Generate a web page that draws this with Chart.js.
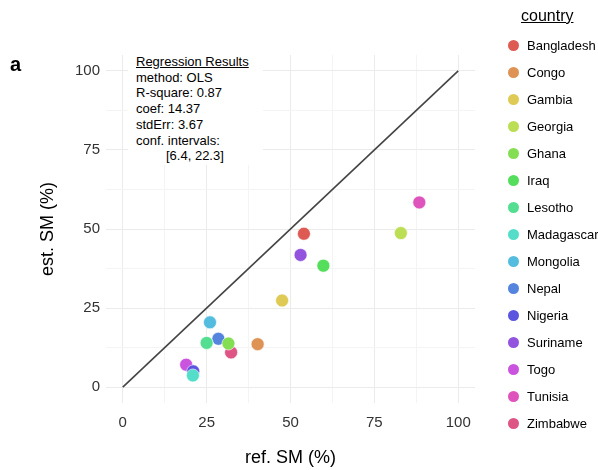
<!DOCTYPE html>
<html>
<head>
<meta charset="utf-8">
<script src="https://cdn.jsdelivr.net/npm/chart.js@4.4.0/dist/chart.umd.min.js"></script>
<style>
  body { margin: 0; background: #fff; font-family: "Liberation Sans", Arial, sans-serif; }
  #wrap { position: relative; width: 598px; height: 470px; }
  #c { position: absolute; left: 0; top: 0; }
  .tag { position: absolute; left: 10px; top: 53px; font-size: 20px; font-weight: bold; }
  #stats { position: absolute; left: 128px; top: 54px; width: 135px; height: 111px; background: #fff;
           font-size: 13px; line-height: 15.7px; color: #000; padding: 0 0 0 8px; box-sizing: border-box; }
  #stats .hd { text-decoration: underline; }
  #stats .ind { padding-left: 30px; }
  #legend { position: absolute; left: 505px; top: 5px; font-size: 13px; color: #000; }
  #legend .ttl { font-size: 16px; text-decoration: underline; margin-left: 16px; height: 27px; line-height: 22px; }
  #legend .it { height: 27px; line-height: 28px; display: flex; align-items: center; }
  #legend .dot { width: 11px; height: 11px; border-radius: 50%; margin: 0 8px 0 3px; }
</style>
</head>
<body>
<div id="wrap">
  <canvas id="c" width="598" height="470"></canvas>
  <div class="tag">a</div>
  <div id="stats"></div>
  <div id="legend"></div>
</div>
<script>
const countries = ['Bangladesh', 'Congo', 'Gambia', 'Georgia', 'Ghana', 'Iraq', 'Lesotho', 'Madagascar',
                   'Mongolia', 'Nepal', 'Nigeria', 'Suriname', 'Togo', 'Tunisia', 'Zimbabwe'];
const refSM = [54.0, 40.2, 47.5, 82.9, 31.5, 59.8, 25.0, 20.9, 26.0, 28.5, 21.0, 53.0, 18.9, 88.4, 32.3];
const estSM = [48.5, 13.6, 27.4, 48.7, 13.8, 38.4, 14.0, 3.7, 20.5, 15.3, 5.0, 41.8, 7.1, 58.4, 11.0];
const lineX = [0, 100];
const lineY = [0, 100];
const majorTicks = [0, 25, 50, 75, 100];
const minorTicks = [12.5, 37.5, 62.5, 87.5];
const statLines = ['method: OLS', 'R-square: 0.87', 'coef: 14.37', 'stdErr: 3.67', 'conf. intervals:'];
const ciText = '[6.4, 22.3]';

const colors = countries.map((_, i) => `hsl(${3 + 24 * i}, 68%, 60%)`);
const font = '"Liberation Sans", Arial, sans-serif';

// stats box
const stats = document.getElementById('stats');
stats.innerHTML = '<div class="hd">Regression Results</div>' +
  statLines.map(t => `<div>${t}</div>`).join('') + `<div class="ind">${ciText}</div>`;

// legend
const legend = document.getElementById('legend');
legend.innerHTML = '<div class="ttl">country</div>' +
  countries.map((c, i) => `<div class="it"><span class="dot" style="background:${colors[i]}"></span>${c}</div>`).join('');

const allTicks = majorTicks.concat(minorTicks).sort((a, b) => a - b);
const setTicks = (scale) => { scale.ticks = allTicks.map(v => ({ value: v })); };
const gridColor = (ctx) => majorTicks.includes(ctx.tick.value) ? '#ebebeb' : '#f4f4f4';

const datasets = countries.map((c, i) => ({
  label: c,
  data: [{ x: refSM[i], y: estSM[i] }],
  backgroundColor: colors[i],
  borderColor: 'rgba(255,255,255,0.6)',
  borderWidth: 1,
  pointRadius: 6.5,
  order: 1
}));
datasets.push({
  type: 'line',
  label: 'identity',
  data: lineX.map((x, i) => ({ x: x, y: lineY[i] })),
  borderColor: '#444',
  borderWidth: 1.6,
  pointRadius: 0,
  order: 2
});

new Chart(document.getElementById('c'), {
  type: 'scatter',
  data: { datasets },
  options: {
    responsive: false,
    animation: false,
    layout: { padding: { top: 55, right: 123, left: 0, bottom: 0 } },
    plugins: { legend: { display: false }, tooltip: { enabled: false } },
    scales: {
      x: {
        type: 'linear', min: -5, max: 105,
        afterBuildTicks: setTicks,
        afterFit: (s) => { s.height = 67; },
        border: { display: false },
        grid: { color: gridColor, lineWidth: 1, drawTicks: false },
        ticks: {
          padding: 11, color: '#333', font: { family: font, size: 15 },
          callback: (v) => majorTicks.includes(v) ? v : ''
        },
        title: { display: true, text: 'ref. SM (%)', color: '#000',
                 font: { family: font, size: 18 }, padding: { top: 0, bottom: 1 } }
      },
      y: {
        type: 'linear', min: -5, max: 105,
        afterBuildTicks: setTicks,
        afterFit: (s) => { s.width = 106; },
        border: { display: false },
        grid: { color: gridColor, lineWidth: 1, drawTicks: false },
        ticks: {
          padding: 6, color: '#333', font: { family: font, size: 15 },
          callback: (v) => majorTicks.includes(v) ? v : ''
        },
        title: { display: true, text: 'est. SM (%)', color: '#000',
                 font: { family: font, size: 18 }, padding: { top: 37, bottom: 0 } }
      }
    }
  }
});
</script>
</body>
</html>
